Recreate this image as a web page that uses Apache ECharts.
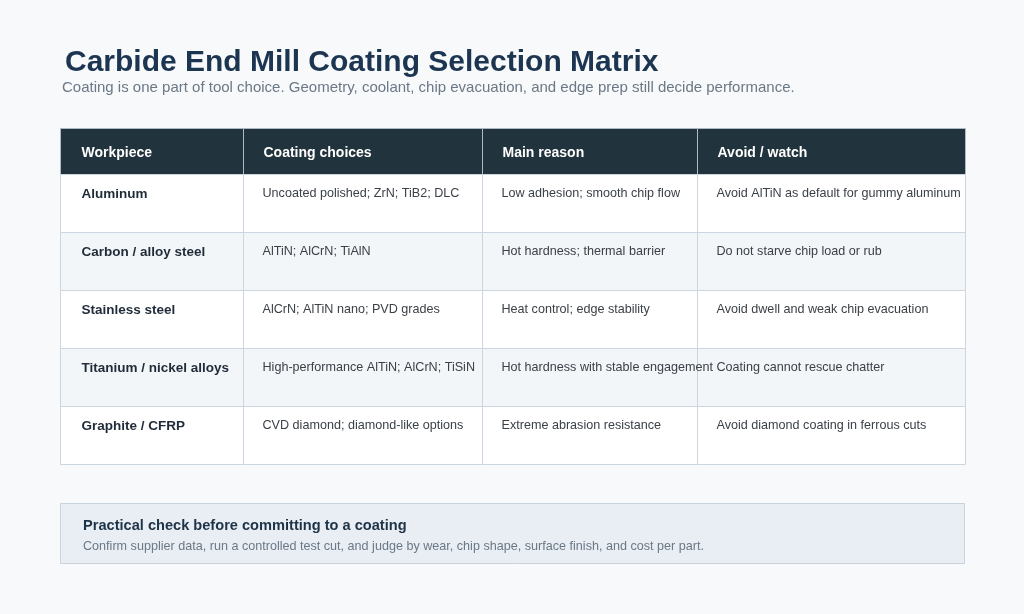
<!DOCTYPE html>
<html>
<head>
<meta charset="utf-8">
<script src="https://cdn.jsdelivr.net/npm/echarts@6/dist/echarts.min.js"></script>
<style>
html,body{margin:0;padding:0;background:#f7f9fb;}
#chart{width:1024px;height:614px;}
</style>
</head>
<body>
<div id="chart"></div>
<script>
const titleText = 'Carbide End Mill Coating Selection Matrix';
const subtitleText = 'Coating is one part of tool choice. Geometry, coolant, chip evacuation, and edge prep still decide performance.';
const headers = ['Workpiece', 'Coating choices', 'Main reason', 'Avoid / watch'];
const workpieces = ['Aluminum', 'Carbon / alloy steel', 'Stainless steel', 'Titanium / nickel alloys', 'Graphite / CFRP'];
const coatings = ['Uncoated polished; ZrN; TiB2; DLC', 'AlTiN; AlCrN; TiAlN', 'AlCrN; AlTiN nano; PVD grades', 'High-performance AlTiN; AlCrN; TiSiN', 'CVD diamond; diamond-like options'];
const reasons = ['Low adhesion; smooth chip flow', 'Hot hardness; thermal barrier', 'Heat control; edge stability', 'Hot hardness with stable engagement', 'Extreme abrasion resistance'];
const avoids = ['Avoid AlTiN as default for gummy aluminum', 'Do not starve chip load or rub', 'Avoid dwell and weak chip evacuation', 'Coating cannot rescue chatter', 'Avoid diamond coating in ferrous cuts'];
const noteTitle = 'Practical check before committing to a coating';
const noteText = 'Confirm supplier data, run a controlled test cut, and judge by wear, chip shape, surface finish, and cost per part.';

// layout (axis units = px of the table area)
const colEdges = [0, 183, 422, 637, 905];
const rowEdges = [0, 46, 104, 162, 220, 278, 336];
const FONT = 'Liberation Sans';

const columns = [workpieces, coatings, reasons, avoids];
const cells = [];
headers.forEach((h, c) => cells.push([c, 0, h]));
workpieces.forEach((w, r) => {
  columns.forEach((col, c) => cells.push([c, r + 1, col[r]]));
});

const chart = echarts.init(document.getElementById('chart'), null, {renderer: 'canvas'});

function renderCell(params, api) {
  const c = api.value(0), r = api.value(1);
  const text = cells[params.dataIndex][2];
  const p0 = api.coord([colEdges[c], rowEdges[r]]);
  const p1 = api.coord([colEdges[c + 1], rowEdges[r + 1]]);
  const x = Math.round(p0[0]) + 0.5, y = Math.round(p0[1]) + 0.5;
  const w = Math.round(p1[0]) - Math.round(p0[0]);
  const h = Math.round(p1[1]) - Math.round(p0[1]);
  const isHeader = r === 0;
  let fill = isHeader ? '#21333d' : (r % 2 === 0 ? '#f3f6f9' : '#ffffff');
  let size, weight, color, ty;
  if (isHeader) {
    size = 14; weight = 'bold'; color = '#ffffff'; ty = y + h / 2 + 1.5;
  } else if (c === 0) {
    size = 13.5; weight = 'bold'; color = '#1f2b38'; ty = y + 19.5;
  } else {
    size = 12.6; weight = 'normal'; color = '#3b4148'; ty = y + 19.5;
  }
  const tx = x + (c === 0 ? 21 : (isHeader ? 20 : 19));
  return {
    type: 'group',
    children: [
      {type: 'rect', shape: {x: x, y: y, width: w, height: h},
        style: {fill: fill, stroke: isHeader ? '#aeb9c3' : '#cbd6e0', lineWidth: 1}},
      {type: 'text', style: {x: tx, y: ty, text: text, fill: color,
        fontFamily: FONT, fontSize: size, fontWeight: weight,
        align: 'left', verticalAlign: 'middle'}, z2: 10}
    ]
  };
}

chart.setOption({
  backgroundColor: '#f7f9fb',
  animation: false,
  title: [
    {text: titleText, left: 65, top: 48, padding: 0,
      textStyle: {fontFamily: FONT, fontSize: 30, fontWeight: 'bold', color: '#1c3550'}},
    {text: subtitleText, left: 62, top: 80, padding: 0,
      textStyle: {fontFamily: FONT, fontSize: 15, fontWeight: 'normal', color: '#6b7886'}}
  ],
  grid: {left: 60, right: 59, top: 128, bottom: 150},
  xAxis: {type: 'value', min: 0, max: 905, show: false},
  yAxis: {type: 'value', min: 0, max: 336, inverse: true, show: false},
  series: [{
    type: 'custom',
    renderItem: renderCell,
    data: cells.map(d => [d[0], d[1]]),
    silent: true
  }],
  graphic: [
    {type: 'rect', shape: {x: 60.5, y: 503.5, width: 904, height: 60},
      style: {fill: '#e8eef4', stroke: '#c8d3dd', lineWidth: 1}},
    {type: 'text', style: {x: 83, y: 525.5, text: noteTitle, fill: '#1f3347',
      fontFamily: FONT, fontSize: 14.6, fontWeight: 'bold', verticalAlign: 'middle'}},
    {type: 'text', style: {x: 83, y: 547, text: noteText, fill: '#6b7886',
      fontFamily: FONT, fontSize: 12.6, verticalAlign: 'middle'}}
  ]
});
</script>
</body>
</html>
